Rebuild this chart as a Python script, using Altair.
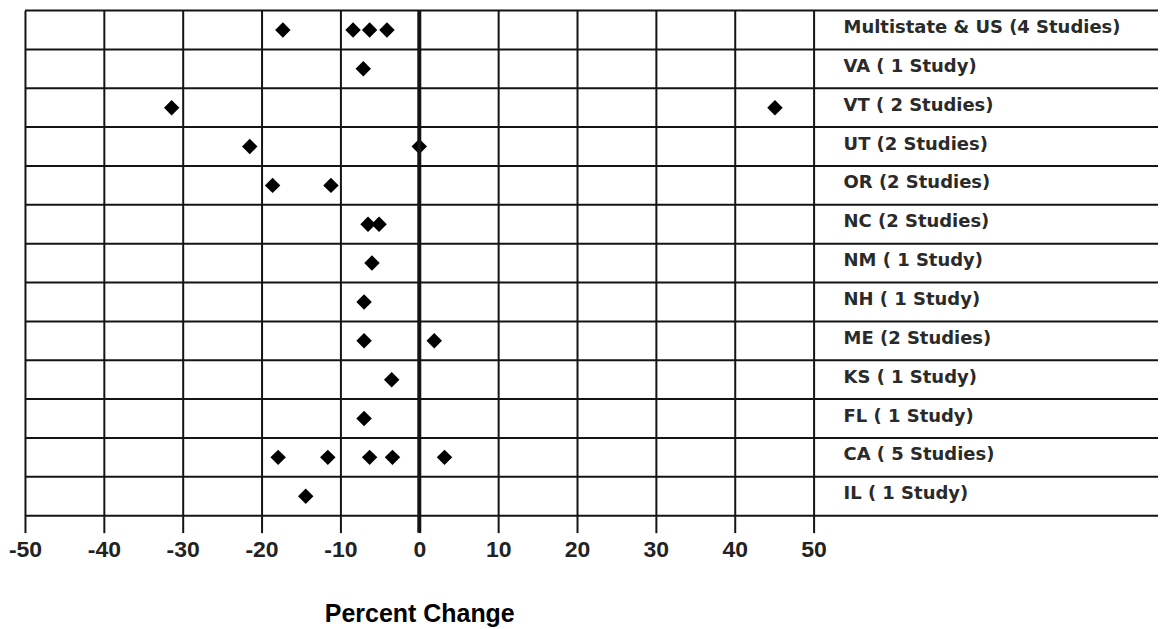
import altair as alt
import pandas as pd

# ---- data ----
states = [
    "Multistate & US (4 Studies)",
    "VA ( 1 Study)",
    "VT ( 2 Studies)",
    "UT (2 Studies)",
    "OR (2 Studies)",
    "NC (2 Studies)",
    "NM ( 1 Study)",
    "NH ( 1 Study)",
    "ME (2 Studies)",
    "KS ( 1 Study)",
    "FL ( 1 Study)",
    "CA ( 5 Studies)",
    "IL ( 1 Study)",
]
multistate_us = [-17.3, -8.4, -6.3, -4.1]
va = [-7.1]
vt = [-31.4, 45.1]
ut = [-21.5, 0.0]
or_ = [-18.6, -11.2]
nc = [-6.5, -5.1]
nm = [-6.0]
nh = [-7.0]
me = [-7.0, 1.9]
ks = [-3.5]
fl = [-7.0]
ca = [-17.9, -11.6, -6.3, -3.4, 3.2]
il = [-14.4]
x_ticks = [-50, -40, -30, -20, -10, 0, 10, 20, 30, 40, 50]

series = [multistate_us, va, vt, ut, or_, nc, nm, nh, me, ks, fl, ca, il]
rows = []
for s, vals in zip(states, series):
    for v in vals:
        rows.append({"state": s, "change": v})
pts = pd.DataFrame(rows)
lab = pd.DataFrame({"state": states})

W = 1135
H = 506
XR = 790
LINE = "#141414"

xscale = alt.Scale(domain=[-50, 50], range=[0, XR], nice=False, zero=False)
yscale = alt.Scale(domain=states, paddingInner=0, paddingOuter=0)

points = alt.Chart(pts).mark_point(
    shape="diamond", filled=True, size=240, color="black", opacity=1
).encode(
    x=alt.X(
        "change:Q",
        scale=xscale,
        axis=alt.Axis(
            values=x_ticks,
            grid=True,
            gridColor=LINE,
            gridWidth=2,
            gridOpacity=1,
            domain=False,
            ticks=True,
            tickSize=17,
            tickWidth=2,
            tickColor=LINE,
            labelExpr="replace(datum.label, '\u2212', '-')",
            labelFont="Liberation Sans",
            labelFontWeight="bold",
            labelFontSize=23,
            labelColor="#222222",
            labelPadding=6,
            labelFlush=False,
            labelOverlap=False,
            title="Percent Change",
            titleFont="Liberation Sans",
            titleFontWeight="bold",
            titleFontSize=25,
            titleColor="#000000",
            titlePadding=40,
        ),
    ),
    y=alt.Y("state:N", sort=states, scale=yscale, axis=None),
)

row_lines = alt.Chart(lab).mark_rule(color=LINE, strokeWidth=2).encode(
    y=alt.Y("state:N", sort=states, scale=yscale, axis=None, bandPosition=0),
    x=alt.value(0),
    x2=alt.value(W),
)

bottom_line = alt.Chart(lab.tail(1)).mark_rule(color=LINE, strokeWidth=2).encode(
    y=alt.Y("state:N", sort=states, scale=yscale, axis=None, bandPosition=1),
    x=alt.value(0),
    x2=alt.value(W),
)

zero_line = alt.Chart(pd.DataFrame({"z": [0]})).mark_rule(
    color=LINE, strokeWidth=4
).encode(
    x=alt.X("z:Q", scale=xscale),
    y=alt.value(0),
    y2=alt.value(H + 17),
)

labels = alt.Chart(lab).mark_text(
    align="left",
    baseline="middle",
    dy=-2,
    font="DejaVu Sans",
    fontWeight="bold",
    fontSize=18,
    color="#2a2a2a",
).encode(
    x=alt.value(820),
    y=alt.Y("state:N", sort=states, scale=yscale, axis=None),
    text="state:N",
)

chart = alt.layer(points, row_lines, bottom_line, zero_line, labels).properties(
    width=W,
    height=H,
    padding={"left": 0, "top": 0, "right": 0, "bottom": 0},
    background="white",
).configure_view(stroke=None)

chart.save("out.html", embed_options={"renderer": "svg", "actions": False})
